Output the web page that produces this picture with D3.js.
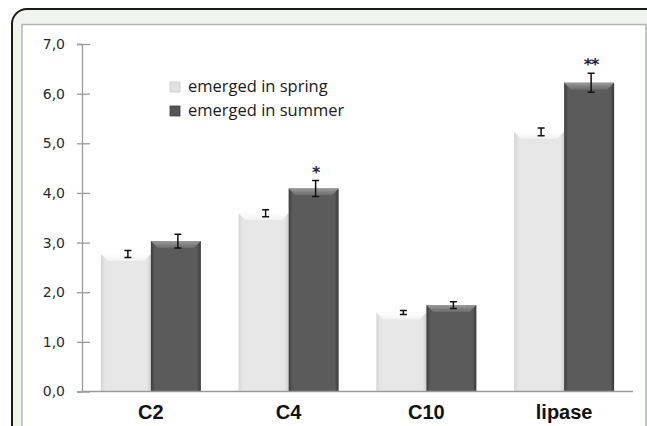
<!DOCTYPE html>
<html>
<head>
<meta charset="utf-8">
<script src="https://cdn.jsdelivr.net/npm/d3@7"></script>
<style>
  body { margin: 0; background: #fff; }
  svg { display: block; }
</style>
</head>
<body>
<svg class="chart"></svg>
<script>
var categories = ["C2", "C4", "C10", "lipase"];
var seriesNames = ["emerged in spring", "emerged in summer"];
var springValues = [2.77, 3.59, 1.59, 5.23];
var springErrors = [0.07, 0.07, 0.04, 0.08];
var summerValues = [3.03, 4.09, 1.74, 6.22];
var summerErrors = [0.14, 0.16, 0.07, 0.19];
var significance = ["", "*", "", "**"];
var yTicks = [0, 1, 2, 3, 4, 5, 6, 7];

function show() {
    'use strict';
    var width = 647, height = 426;
    var margin = {top: 44, left: 82, right: 14, bottom: 34.5};

    var svg = d3.select(".chart")
        .attr("width", width)
        .attr("height", height);

    var defs = svg.append("defs");

    function grad(id, stops, vertical) {
        var g = defs.append("linearGradient").attr("id", id)
            .attr("x1", 0).attr("y1", 0)
            .attr("x2", vertical ? 0 : 1).attr("y2", vertical ? 1 : 0);
        stops.forEach(function(s) {
            g.append("stop").attr("offset", s[0]).attr("stop-color", s[1]);
        });
    }
    grad("bevel-0", [[0, "#ffffff"], [1, "#f2f2f2"]], true);
    grad("bevel-1", [[0, "#9a9a9a"], [1, "#6a6a6a"]], true);
    grad("face-0", [[0, "#d4d4d4"], [0.08, "#e6e6e6"], [0.92, "#e6e6e6"], [1, "#cfcfcf"]], false);
    grad("face-1", [[0, "#3c3c3c"], [0.08, "#5b5b5b"], [0.92, "#5b5b5b"], [1, "#3a3a3a"]], false);

    // frame
    svg.append("rect")
        .attr("x", 12).attr("y", 9)
        .attr("width", 700).attr("height", 500)
        .attr("rx", 15).attr("ry", 15)
        .attr("fill", "#eef6ec")
        .attr("stroke", "#1a1a1a")
        .attr("stroke-width", 2);
    svg.append("rect")
        .attr("x", 22).attr("y", 24.5)
        .attr("width", 624).attr("height", 500)
        .attr("fill", "#ffffff")
        .attr("stroke", "#b4b4b4")
        .attr("stroke-width", 1.5);

    var x0 = d3.scaleBand()
        .domain(categories)
        .range([margin.left, width - margin.right])
        .paddingInner(0.274)
        .paddingOuter(0.137);

    var x1 = d3.scaleBand()
        .domain([0, 1])
        .range([0, x0.bandwidth()]);

    var y = d3.scaleLinear()
        .domain([0, 7])
        .range([height - margin.bottom, margin.top]);

    // y axis
    var yAxis = svg.append("g")
        .attr("transform", "translate(" + margin.left + ",0)")
        .call(d3.axisLeft(y).tickValues(yTicks).tickSize(5).tickPadding(12)
            .tickFormat(function(d) { return d3.format(".1f")(d).replace(".", ","); }));
    yAxis.select(".domain").attr("stroke", "#9a9a9a").attr("stroke-width", 1.3);
    yAxis.selectAll(".tick line").attr("stroke", "#9a9a9a").attr("stroke-width", 1.3)
        .attr("x2", 8).attr("x1", -5);
    yAxis.selectAll(".tick text")
        .attr("fill", "#2a2a2a")
        .attr("font-family", "DejaVu Sans")
        .attr("font-size", 14);

    var rows = categories.map(function(c, i) {
        return {
            cat: c,
            bars: [
                {s: 0, v: springValues[i], e: springErrors[i]},
                {s: 1, v: summerValues[i], e: summerErrors[i]}
            ],
            sig: significance[i]
        };
    });

    var groups = svg.append("g").selectAll("g").data(rows).enter()
        .append("g")
        .attr("transform", function(d) { return "translate(" + x0(d.cat) + ",0)"; });

    var bars = groups.selectAll("g.bar").data(function(d) { return d.bars; }).enter()
        .append("g").attr("class", "bar");

    bars.append("rect")
        .attr("x", function(d) { return x1(d.s); })
        .attr("y", function(d) { return y(d.v); })
        .attr("width", x1.bandwidth())
        .attr("height", function(d) { return y(0) - y(d.v); })
        .attr("fill", function(d) { return "url(#face-" + d.s + ")"; });

    var bev = 7;
    bars.append("path")
        .attr("d", function(d) {
            var xl = x1(d.s), xr = xl + x1.bandwidth(), yt = y(d.v);
            return "M" + xl + "," + yt + "L" + xr + "," + yt +
                "L" + (xr - bev) + "," + (yt + bev) + "L" + (xl + bev) + "," + (yt + bev) + "Z";
        })
        .attr("fill", function(d) { return "url(#bevel-" + d.s + ")"; });

    // error bars
    var cap = 3.5;
    bars.append("path")
        .attr("d", function(d) {
            var cx = x1(d.s) + x1.bandwidth() / 2 + 2;
            var yh = y(d.v + d.e), yl = y(d.v - d.e);
            return "M" + (cx - cap) + "," + yh + "H" + (cx + cap) +
                "M" + cx + "," + yh + "V" + yl +
                "M" + (cx - cap) + "," + yl + "H" + (cx + cap);
        })
        .attr("fill", "none")
        .attr("stroke", "#111")
        .attr("stroke-width", 1.5);

    // significance stars
    groups.append("text")
        .attr("x", function(d) { return x1(1) + x1.bandwidth() / 2 + 2; })
        .attr("y", function(d) { return y(d.bars[1].v + d.bars[1].e) - 3; })
        .attr("text-anchor", "middle")
        .attr("font-family", "DejaVu Sans")
        .attr("font-weight", "bold")
        .attr("font-size", 16)
        .attr("letter-spacing", -1)
        .attr("fill", "#1c2440")
        .text(function(d) { return d.sig; });

    // x axis
    svg.append("line")
        .attr("x1", margin.left).attr("x2", width - margin.right)
        .attr("y1", y(0)).attr("y2", y(0))
        .attr("stroke", "#9a9a9a")
        .attr("stroke-width", 1.3);

    svg.append("g").selectAll("text").data(categories).enter()
        .append("text")
        .attr("x", function(d) { return x0(d) + x0.bandwidth() / 2; })
        .attr("y", 419)
        .attr("text-anchor", "middle")
        .attr("font-family", "Liberation Sans")
        .attr("font-weight", "bold")
        .attr("font-size", 20)
        .attr("fill", "#111")
        .text(function(d) { return d; });

    // legend
    var legend = svg.append("g").selectAll("g").data(seriesNames).enter()
        .append("g")
        .attr("transform", function(d, i) { return "translate(170," + (82 + i * 24) + ")"; });
    legend.append("rect")
        .attr("width", 10).attr("height", 10)
        .attr("fill", function(d, i) { return i === 0 ? "#e2e2e2" : "#555"; })
        .attr("stroke", function(d, i) { return i === 0 ? "#c8c8c8" : "#3a3a3a"; })
        .attr("stroke-width", 0.8);
    legend.append("text")
        .attr("x", 18)
        .attr("y", 10)
        .attr("font-family", "Open Sans")
        .attr("font-size", 16.5)
        .attr("fill", "#1a1a1a")
        .text(function(d) { return d; });
}
show();
</script>
</body>
</html>
